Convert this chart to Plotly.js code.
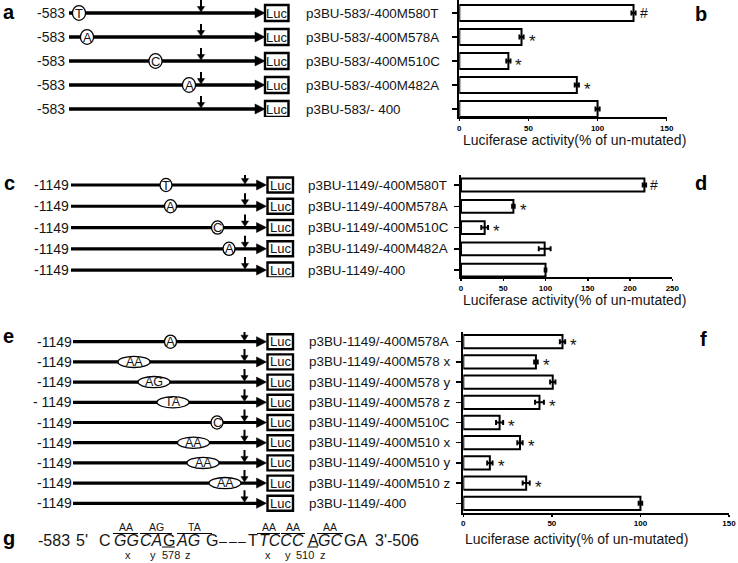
<!DOCTYPE html>
<html><head><meta charset="utf-8">
<script src="https://cdn.plot.ly/plotly-3.0.1.min.js"></script>
<style>html,body{margin:0;padding:0;background:#fff}#chart{width:738px;height:563px}</style>
</head><body><div id="chart"></div>
<script>
// ---------- data ----------
const catsB = ['p3BU-583/-400M580T','p3BU-583/-400M578A','p3BU-583/-400M510C','p3BU-583/-400M482A','p3BU-583/- 400'];
const valsB = [126, 45, 35.5, 85, 100];
const errB  = [1.5, 1.5, 1.5, 1.5, 1.5];
const sigB  = ['#','*','*','*',''];

const catsD = ['p3BU-1149/-400M580T','p3BU-1149/-400M578A','p3BU-1149/-400M510C','p3BU-1149/-400M482A','p3BU-1149/-400'];
const valsD = [217, 62, 28, 99, 100];
const errD  = [2, 1.5, 4, 7, 1];
const sigD  = ['#','*','*','',''];

const catsF = ['p3BU-1149/-400M578A','p3BU-1149/-400M578 x','p3BU-1149/-400M578 y','p3BU-1149/-400M578 z','p3BU-1149/-400M510C','p3BU-1149/-400M510 x','p3BU-1149/-400M510 y','p3BU-1149/-400M510 z','p3BU-1149/-400'];
const valsF = [56, 41, 50.5, 43, 20.5, 32, 15, 35.5, 100];
const errF  = [1.5, 1, 1.5, 2.5, 2, 1.5, 1.5, 2, 1];
const sigF  = ['*','*','','*','*','*','*','*',''];

const xTicksB = [0, 50, 100, 150];
const xTicksD = [0, 50, 100, 150, 200, 250];
const xTicksF = [0, 50, 100, 150];
const xTitle = 'Luciferase activity(% of un-mutated)';

// construct diagrams
const startA = ['-583','-583','-583','-583','-583'];
const mutA   = ['T','A','C','A',''];
const startC = ['-1149','-1149','-1149','-1149','-1149'];
const mutC   = ['T','A','C','A',''];
const startE = ['-1149','-1149','-1149','- 1149','-1149','-1149','-1149','-1149','-1149'];
const mutE   = ['A','AA','AG','TA','C','AA','AA','AA',''];
const reporter = 'Luc';

// sequence panel g
const seqSegs   = ['-583', "5'", 'C', '<i>GG</i>', '<i>CA</i>', 'G', '<i>AG</i>', 'G', '–', '–', '–', 'T', '<i>TCCC</i>', 'A', '<i>GC</i>', 'GA', "3'-506"];
const overLabels = ['AA','AG','TA','AA','AA','AA'];
const subLabels  = ['x','y','578','z','x','y','510','z'];

// ---------- layout helpers (positions / styles) ----------
const W = 738, H = 563;
const px = x => x / W, py = y => 1 - y / H;
const FONT = 'Liberation Sans, Arial, Helvetica, sans-serif';
const TXT = '#151515';

const mutXA = [79, 87, 155.5, 189, null];
const mutXC = [166, 170.5, 217.5, 229, null];
const mutXE = [170.5, 134, 154, 173, 217, 193.5, 203, 225, null];

const geoA = {yref:'y',  labelRight:66,   line0:69, tip:265,   box0:265,   box1:288.5, boxH:8,   arrowX:201,   rx:6.6, ry:7.3, lw:3.4, muts:mutA, mx:mutXA, starts:startA};
const geoC = {yref:'y2', labelRight:70,   line0:71, tip:266.5, box0:267.5, box1:293,   boxH:7.5, arrowX:245,   rx:6,   ry:6.6, lw:3.2, muts:mutC, mx:mutXC, starts:startC};
const geoE = {yref:'y3', labelRight:72.5, line0:73, tip:266.5, box0:267.5, box1:293,   boxH:7.5, arrowX:244.5, rx:6,   ry:6.6, lw:3.2, muts:mutE, mx:mutXE, starts:startE};

const shapes = [], annotations = [];

function pxShape(g, row, o) {
  return Object.assign({xref:'paper', yref:g.yref, xsizemode:'pixel', xanchor:0, ysizemode:'pixel', yanchor:row, layer:'above'}, o);
}
function ann(o) { return Object.assign({showarrow:false, borderpad:0, font:{family:FONT, size:14, color:TXT}}, o); }

function drawDiagram(g) {
  g.starts.forEach((lab, i) => {
    shapes.push(pxShape(g, i, {type:'line', x0:g.line0, x1:g.tip-6, y0:0, y1:0, line:{color:'#000', width:g.lw}}));
    shapes.push(pxShape(g, i, {type:'path', path:`M${g.tip-10},5 L${g.tip},0 L${g.tip-10},-5 Z`, fillcolor:'#000', line:{color:'#000', width:0.5}}));
    shapes.push(pxShape(g, i, {type:'rect', x0:g.box0, x1:g.box1, y0:-g.boxH, y1:g.boxH, fillcolor:'#fff', line:{color:'#000', width:2.4}}));
    shapes.push(pxShape(g, i, {type:'line', x0:g.arrowX, x1:g.arrowX, y0:13, y1:5, line:{color:'#000', width:2}}));
    shapes.push(pxShape(g, i, {type:'path', path:`M${g.arrowX-3.6},6.5 L${g.arrowX+3.6},6.5 L${g.arrowX},1 Z`, fillcolor:'#000', line:{color:'#000', width:0.5}}));
    annotations.push(ann({xref:'paper', x:px(g.labelRight), xanchor:'right', yref:g.yref, y:i, text:lab}));
    annotations.push(ann({xref:'paper', x:px((g.box0+g.box1)/2), xanchor:'center', yref:g.yref, y:i, text:reporter, font:{family:FONT, size:13, color:TXT}}));
    const m = g.muts[i];
    if (m) {
      const cx = g.mx[i];
      const rx = m.length > 1 ? 16 : g.rx, ry = m.length > 1 ? 5.6 : g.ry;
      shapes.push(pxShape(g, i, {type:'circle', x0:cx-rx, x1:cx+rx, y0:-ry, y1:ry, fillcolor:'#fff', line:{color:'#000', width:1.3}}));
      annotations.push(ann({xref:'paper', x:px(cx), xanchor:'center', yref:g.yref, y:i, text:m, font:{family:FONT, size:m.length>1?12.5:13, color:TXT}}));
    }
  });
}
drawDiagram(geoA); drawDiagram(geoC); drawDiagram(geoE);

// category labels, significance marks
function labelPanel(cats, vals, errs, sigs, yref, xref, labelX) {
  cats.forEach((c, i) => {
    annotations.push(ann({xref:'paper', x:px(labelX), xanchor:'left', yref, y:i, text:c, font:{family:FONT, size:13.4, color:TXT}}));
    if (sigs[i]) {
      const star = sigs[i] === '*';
      annotations.push(ann({xref, x:vals[i]+errs[i], xanchor:'left', xshift:star?4:3, yshift:star?-4:0, yref, y:i, text:sigs[i],
        font:{family:FONT, size:star?17:14, color:TXT}}));
    }
  });
}
labelPanel(catsB, valsB, errB, sigB, 'y', 'x', 305);
labelPanel(catsD, valsD, errD, sigD, 'y2', 'x2', 306.5);
labelPanel(catsF, valsF, errF, sigF, 'y3', 'x3', 308);

// axis titles
[[574.5,140],[574.5,300],[576.5,539]].forEach(p => annotations.push(ann({xref:'paper', yref:'paper', x:px(p[0]), y:py(p[1]), xanchor:'center', yanchor:'middle', text:xTitle})));

// panel letters
[['a',9,12],['b',701,14],['c',9,183],['d',701,183],['e',8,336],['f',703,339],['g',8.5,538]].forEach(l =>
  annotations.push(ann({xref:'paper', yref:'paper', x:px(l[1]), y:py(l[2]), xanchor:'center', yanchor:'middle', text:'<b>'+l[0]+'</b>', font:{family:FONT, size:20, color:'#000'}})));

// panel g sequence
const segX = [37, 74.5, 97.5, 112.5, 139, 162, 175, 205, 218, 227.5, 237, 247, 258, 306.5, 317, 343, 374];
seqSegs.forEach((s, i) => annotations.push(ann({xref:'paper', yref:'paper', x:px(segX[i]), y:py(540.5), xanchor:'left', yanchor:'middle', text:s,
  font:{family:FONT, size:s === '–' ? 14 : 16, color:TXT}})));
const overSpan = [[113,138],[140,172],[177,212],[257,280],[281,305],[317,343]];
overSpan.forEach((sp, i) => {
  shapes.push({type:'line', xref:'paper', yref:'paper', x0:px(sp[0]), x1:px(sp[1]), y0:py(533.5), y1:py(533.5), line:{color:'#000', width:1}});
  annotations.push(ann({xref:'paper', yref:'paper', x:px((sp[0]+sp[1])/2), y:py(527), xanchor:'center', yanchor:'middle', text:overLabels[i], font:{family:FONT, size:10.5, color:TXT}}));
});
[[162,175],[307,318]].forEach(sp => shapes.push({type:'line', xref:'paper', yref:'paper', x0:px(sp[0]), x1:px(sp[1]), y0:py(547), y1:py(547), line:{color:'#000', width:1}}));
const subX = [128, 153, 171, 188, 268, 288, 305, 323];
subLabels.forEach((s, i) => annotations.push(ann({xref:'paper', yref:'paper', x:px(subX[i]), y:py(554.5), xanchor:'center', yanchor:'middle', text:s, font:{family:FONT, size:11, color:TXT}})));

// ---------- traces ----------
function barTrace(cats, vals, errs, xa, ya, w) {
  return {type:'bar', orientation:'h', y:cats, x:vals, xaxis:xa, yaxis:ya, width:w,
    marker:{color:'#fff', line:{color:'#000', width:2}},
    error_x:{type:'data', array:errs, visible:true, color:'#000', thickness:2, width:2.5},
    hoverinfo:'skip'};
}
const data = [
  barTrace(catsB, valsB, errB, 'x', 'y', 0.66),
  barTrace(catsD, valsD, errD, 'x2', 'y2', 0.6),
  barTrace(catsF, valsF, errF, 'x3', 'y3', 0.66)
];

function xAxis(dom, range, ticks, anchor) {
  return {domain:dom, range, anchor, tickvals:ticks, showline:true, linecolor:'#000', linewidth:2, ticks:'outside', ticklen:2, tickwidth:1.5, tickcolor:'#000',
    showgrid:false, zeroline:false, automargin:false, fixedrange:true, tickfont:{family:FONT, size:8, color:'#000', weight:'bold'}};
}
function yAxis(dom, range, anchor) {
  return {domain:dom, range, anchor, type:'category', showline:true, linecolor:'#000', linewidth:2, ticks:'outside', ticklen:5, tickwidth:1.5, tickcolor:'#000',
    showticklabels:false, showgrid:false, zeroline:false, automargin:false, fixedrange:true};
}

const layout = {
  width:W, height:H, margin:{l:0, r:0, t:0, b:0, pad:0}, paper_bgcolor:'#fff', plot_bgcolor:'rgba(0,0,0,0)',
  showlegend:false, font:{family:FONT, color:TXT},
  xaxis:  xAxis([459.3/W, 666.7/W], [0,150], xTicksB, 'y'),
  yaxis:  yAxis([1-117/H, 1], [4.333, -0.542], 'x'),
  xaxis2: xAxis([461/W, 672.3/W], [0,250], xTicksD, 'y2'),
  yaxis2: yAxis([1-277.3/H, 1-175/H], [4.34, -0.47], 'x2'),
  xaxis3: xAxis([463.3/W, 729/W], [0,150], xTicksF, 'y3'),
  yaxis3: yAxis([1-512.7/H, 1-332/H], [8.465, -0.48], 'x3'),
  shapes, annotations
};
Plotly.newPlot('chart', data, layout, {staticPlot:true, displayModeBar:false});
</script></body></html>
